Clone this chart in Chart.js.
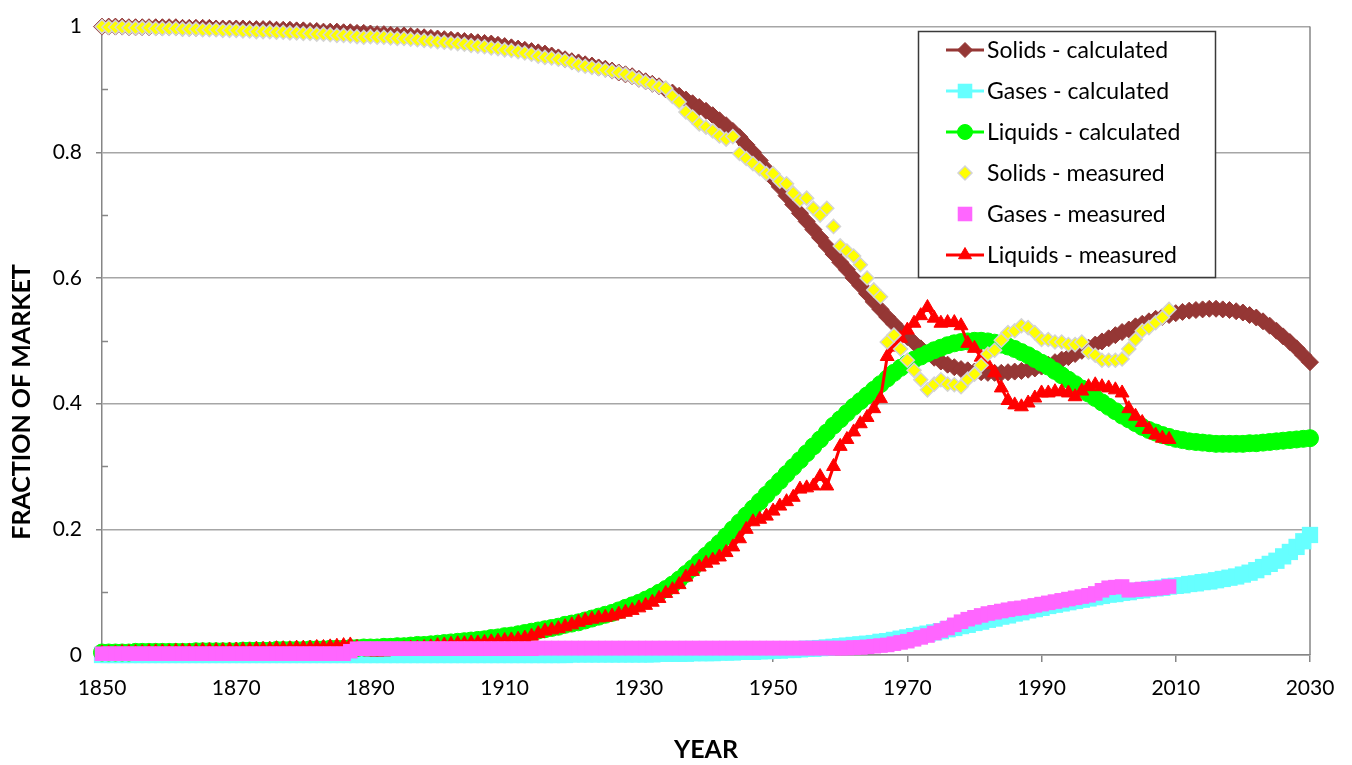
<!DOCTYPE html>
<html>
<head>
<meta charset="utf-8">
<title>Fraction of market: solids, liquids and gases</title>
<script src="https://cdn.jsdelivr.net/npm/chart.js@4.4.1/dist/chart.umd.min.js"></script>
<style>
  html, body { margin: 0; padding: 0; background: #ffffff; }
  canvas { display: block; }
</style>
</head>
<body>
<canvas id="market" width="1352" height="765"></canvas>
<script>
// Yearly shares of the primary energy market, 1850 onwards.
const FIRST_YEAR = 1850;

// Model curves, 1850-2030
const solidsCalculated = [
  1.000,1.000,1.000,1.000,0.999,0.999,0.999,0.999,0.999,0.999,
  0.999,0.999,0.998,0.998,0.998,0.998,0.998,0.997,0.997,0.997,
  0.997,0.997,0.996,0.996,0.996,0.996,0.995,0.995,0.995,0.994,
  0.994,0.993,0.993,0.992,0.992,0.992,0.991,0.991,0.990,0.990,
  0.989,0.988,0.988,0.987,0.986,0.986,0.985,0.984,0.983,0.982,
  0.981,0.980,0.979,0.978,0.977,0.976,0.975,0.974,0.973,0.971,
  0.969,0.967,0.965,0.963,0.961,0.959,0.957,0.954,0.951,0.948,
  0.945,0.943,0.940,0.938,0.935,0.933,0.930,0.927,0.924,0.921,
  0.917,0.913,0.909,0.905,0.900,0.895,0.890,0.884,0.878,0.872,
  0.866,0.859,0.851,0.843,0.834,0.824,0.812,0.800,0.787,0.773,
  0.758,0.745,0.731,0.717,0.703,0.690,0.677,0.664,0.651,0.638,
  0.625,0.613,0.600,0.588,0.575,0.562,0.550,0.538,0.527,0.516,
  0.506,0.497,0.488,0.480,0.473,0.467,0.462,0.458,0.455,0.453,
  0.451,0.450,0.449,0.449,0.449,0.450,0.451,0.452,0.454,0.456,
  0.459,0.462,0.466,0.470,0.474,0.479,0.484,0.489,0.494,0.499,
  0.504,0.509,0.514,0.518,0.523,0.527,0.531,0.535,0.538,0.541,
  0.544,0.546,0.548,0.549,0.550,0.551,0.551,0.550,0.549,0.547,
  0.545,0.541,0.537,0.531,0.524,0.516,0.507,0.498,0.488,0.477,
  0.466
];

const gasesCalculated = [
  0.000,0.000,0.000,0.000,0.000,0.000,0.000,0.000,0.000,0.000,
  0.000,0.000,0.000,0.000,0.000,0.000,0.000,0.000,0.000,0.000,
  0.000,0.000,0.000,0.000,0.000,0.000,0.000,0.000,0.000,0.000,
  0.000,0.000,0.000,0.000,0.000,0.000,0.000,0.000,0.000,0.000,
  0.000,0.000,0.000,0.000,0.000,0.000,0.000,0.000,0.000,0.000,
  0.000,0.000,0.000,0.000,0.000,0.000,0.000,0.000,0.000,0.000,
  0.000,0.000,0.000,0.000,0.000,0.000,0.000,0.000,0.000,0.000,
  0.001,0.001,0.001,0.001,0.001,0.001,0.001,0.001,0.001,0.001,
  0.001,0.001,0.001,0.002,0.002,0.002,0.002,0.002,0.003,0.003,
  0.003,0.003,0.004,0.004,0.004,0.005,0.005,0.005,0.006,0.006,
  0.007,0.007,0.008,0.008,0.009,0.010,0.010,0.011,0.012,0.013,
  0.014,0.015,0.016,0.017,0.018,0.019,0.021,0.022,0.024,0.026,
  0.028,0.030,0.032,0.034,0.036,0.038,0.041,0.043,0.046,0.048,
  0.051,0.053,0.056,0.058,0.061,0.063,0.066,0.068,0.071,0.073,
  0.075,0.078,0.080,0.082,0.084,0.086,0.088,0.090,0.092,0.094,
  0.096,0.097,0.099,0.100,0.102,0.103,0.105,0.106,0.107,0.109,
  0.110,0.111,0.113,0.114,0.116,0.117,0.119,0.121,0.123,0.125,
  0.128,0.131,0.135,0.140,0.145,0.150,0.157,0.164,0.172,0.181,
  0.191
];

const liquidsCalculated = [
  0.004,0.004,0.004,0.004,0.004,0.005,0.005,0.005,0.005,0.005,
  0.005,0.005,0.005,0.005,0.006,0.006,0.006,0.006,0.006,0.006,
  0.006,0.007,0.007,0.007,0.007,0.007,0.008,0.008,0.008,0.008,
  0.008,0.009,0.009,0.009,0.010,0.010,0.010,0.011,0.011,0.012,
  0.012,0.012,0.013,0.013,0.014,0.014,0.015,0.016,0.016,0.017,
  0.018,0.019,0.020,0.021,0.022,0.023,0.024,0.025,0.027,0.028,
  0.030,0.031,0.033,0.035,0.037,0.039,0.041,0.043,0.045,0.048,
  0.050,0.052,0.055,0.058,0.061,0.064,0.067,0.071,0.075,0.079,
  0.083,0.088,0.093,0.099,0.105,0.112,0.120,0.129,0.138,0.148,
  0.158,0.168,0.178,0.189,0.200,0.211,0.222,0.233,0.244,0.255,
  0.266,0.277,0.288,0.299,0.310,0.321,0.332,0.343,0.354,0.365,
  0.375,0.385,0.395,0.404,0.413,0.422,0.431,0.440,0.449,0.457,
  0.464,0.470,0.475,0.480,0.485,0.489,0.493,0.496,0.498,0.499,
  0.500,0.500,0.499,0.497,0.494,0.491,0.487,0.482,0.477,0.471,
  0.465,0.459,0.452,0.445,0.438,0.431,0.424,0.416,0.409,0.402,
  0.395,0.388,0.381,0.375,0.369,0.363,0.358,0.354,0.350,0.347,
  0.344,0.342,0.340,0.339,0.338,0.337,0.336,0.336,0.336,0.336,
  0.336,0.337,0.337,0.338,0.339,0.340,0.341,0.342,0.343,0.344,
  0.345
];

// Historical statistics, 1850-2009
const solidsMeasured = [
  1.000,0.999,0.999,0.999,0.998,0.998,0.998,0.998,0.997,0.997,
  0.997,0.997,0.996,0.996,0.996,0.995,0.995,0.995,0.994,0.994,
  0.994,0.993,0.993,0.992,0.992,0.992,0.991,0.991,0.990,0.990,
  0.989,0.989,0.988,0.988,0.987,0.986,0.986,0.985,0.984,0.983,
  0.984,0.983,0.983,0.982,0.981,0.981,0.980,0.979,0.978,0.977,
  0.976,0.975,0.974,0.973,0.972,0.970,0.969,0.968,0.966,0.965,
  0.963,0.962,0.960,0.958,0.956,0.953,0.951,0.950,0.948,0.946,
  0.943,0.939,0.937,0.935,0.933,0.931,0.929,0.927,0.924,0.920,
  0.916,0.912,0.908,0.904,0.902,0.889,0.880,0.864,0.856,0.845,
  0.840,0.834,0.826,0.821,0.825,0.798,0.790,0.782,0.774,0.766,
  0.766,0.754,0.750,0.735,0.724,0.727,0.711,0.700,0.711,0.682,
  0.651,0.643,0.635,0.621,0.600,0.581,0.570,0.498,0.509,0.487,
  0.469,0.453,0.438,0.422,0.431,0.438,0.431,0.430,0.427,0.439,
  0.447,0.461,0.479,0.485,0.501,0.513,0.516,0.524,0.521,0.513,
  0.502,0.502,0.498,0.498,0.494,0.494,0.498,0.482,0.477,0.469,
  0.469,0.469,0.471,0.487,0.502,0.516,0.521,0.529,0.537,0.550
];

const gasesMeasured = [
  0.002,0.002,0.002,0.002,0.002,0.002,0.002,0.002,0.002,0.002,
  0.002,0.002,0.002,0.002,0.002,0.002,0.002,0.002,0.002,0.002,
  0.002,0.002,0.002,0.002,0.002,0.002,0.002,0.002,0.002,0.002,
  0.002,0.002,0.002,0.002,0.002,0.002,0.002,0.006,0.010,0.010,
  0.010,0.010,0.010,0.010,0.010,0.010,0.010,0.010,0.010,0.010,
  0.010,0.010,0.010,0.010,0.010,0.010,0.010,0.010,0.010,0.010,
  0.010,0.010,0.010,0.010,0.010,0.011,0.011,0.011,0.011,0.011,
  0.011,0.011,0.011,0.011,0.011,0.011,0.011,0.011,0.011,0.011,
  0.011,0.011,0.011,0.011,0.011,0.011,0.011,0.011,0.011,0.011,
  0.011,0.011,0.011,0.011,0.011,0.011,0.011,0.011,0.011,0.011,
  0.011,0.011,0.011,0.011,0.011,0.011,0.011,0.011,0.011,0.011,
  0.011,0.011,0.012,0.012,0.013,0.014,0.015,0.016,0.018,0.020,
  0.022,0.025,0.028,0.031,0.035,0.039,0.043,0.048,0.053,0.057,
  0.060,0.063,0.066,0.068,0.070,0.072,0.074,0.075,0.077,0.079,
  0.081,0.083,0.085,0.087,0.089,0.091,0.093,0.095,0.098,0.103,
  0.107,0.108,0.109,0.103,0.104,0.105,0.105,0.106,0.107,0.109
];

const liquidsMeasured = [
  0.003,0.003,0.003,0.004,0.004,0.004,0.004,0.005,0.005,0.005,
  0.005,0.006,0.006,0.006,0.006,0.007,0.007,0.007,0.007,0.008,
  0.008,0.008,0.008,0.009,0.009,0.009,0.010,0.010,0.010,0.011,
  0.011,0.011,0.012,0.012,0.013,0.014,0.015,0.016,0.012,0.006,
  0.005,0.005,0.005,0.006,0.006,0.010,0.011,0.011,0.012,0.013,
  0.015,0.016,0.017,0.018,0.018,0.019,0.019,0.020,0.021,0.022,
  0.023,0.024,0.025,0.027,0.030,0.034,0.038,0.040,0.042,0.045,
  0.048,0.052,0.055,0.057,0.059,0.060,0.062,0.065,0.068,0.071,
  0.075,0.079,0.084,0.090,0.098,0.104,0.112,0.124,0.133,0.140,
  0.146,0.151,0.156,0.163,0.172,0.185,0.200,0.212,0.216,0.221,
  0.229,0.237,0.244,0.251,0.264,0.266,0.269,0.284,0.269,0.300,
  0.332,0.343,0.355,0.368,0.378,0.392,0.408,0.475,0.490,0.504,
  0.517,0.528,0.540,0.553,0.536,0.528,0.529,0.529,0.524,0.496,
  0.488,0.474,0.462,0.449,0.425,0.405,0.398,0.395,0.401,0.409,
  0.417,0.417,0.419,0.419,0.417,0.411,0.420,0.427,0.430,0.427,
  0.425,0.422,0.417,0.392,0.380,0.370,0.359,0.350,0.345,0.343
];

const xTickYears = [1850, 1870, 1890, 1910, 1930, 1950, 1970, 1990, 2010, 2030];
const yTickValues = [0, 0.2, 0.4, 0.6, 0.8, 1];
const seriesLabels = [
  'Solids - calculated', 'Gases - calculated', 'Liquids - calculated',
  'Solids - measured', 'Gases - measured', 'Liquids - measured'
];

const toPoints = values => values.map((v, i) => ({ x: FIRST_YEAR + i, y: v }));

const FONT = 'Lato, "Open Sans", "Liberation Sans", sans-serif';
Chart.defaults.font.family = FONT;
Chart.defaults.color = '#000000';

const AXIS_GREY = '#868686';
const GRID_GREY = '#a6a6a6';

// Dataset styles; `order` puts the measured points above the model curves.
const datasets = [
  {
    label: seriesLabels[0], data: toPoints(solidsCalculated), order: 5,
    borderColor: '#953735', backgroundColor: '#953735', borderWidth: 3,
    pointStyle: 'rectRot', pointRadius: 8.5, pointBorderWidth: 1,
    pointBackgroundColor: '#953735', pointBorderColor: '#953735', showLine: true
  },
  {
    label: seriesLabels[1], data: toPoints(gasesCalculated), order: 4,
    borderColor: '#66ffff', backgroundColor: '#66ffff', borderWidth: 3,
    pointStyle: 'rect', pointRadius: 11.5, pointBorderWidth: 0,
    pointBackgroundColor: '#66ffff', pointBorderColor: '#66ffff', showLine: true
  },
  {
    label: seriesLabels[2], data: toPoints(liquidsCalculated), order: 3,
    borderColor: '#00ff00', backgroundColor: '#00ff00', borderWidth: 3,
    pointStyle: 'circle', pointRadius: 8.5, pointBorderWidth: 1,
    pointBackgroundColor: '#00ff00', pointBorderColor: '#00ff00', showLine: true
  },
  {
    label: seriesLabels[3], data: toPoints(solidsMeasured), order: 1,
    borderColor: '#d4d4d4', backgroundColor: '#ffff00', borderWidth: 0,
    pointStyle: 'rectRot', pointRadius: 7, pointBorderWidth: 1.5,
    pointBackgroundColor: '#ffff00', pointBorderColor: '#d4d4d4', showLine: false
  },
  {
    label: seriesLabels[4], data: toPoints(gasesMeasured), order: 0,
    borderColor: '#ff66ff', backgroundColor: '#ff66ff', borderWidth: 0,
    pointStyle: 'rect', pointRadius: 10.3, pointBorderWidth: 0,
    pointBackgroundColor: '#ff66ff', pointBorderColor: '#ff66ff', showLine: false
  },
  {
    label: seriesLabels[5], data: toPoints(liquidsMeasured), order: 2,
    borderColor: '#ff0000', backgroundColor: '#ff0000', borderWidth: 3,
    pointStyle: 'triangle', pointRadius: 8, pointBorderWidth: 1,
    pointBackgroundColor: '#ff0000', pointBorderColor: '#ff0000', showLine: true
  }
];
datasets.forEach(ds => { ds.clip = false; ds.tension = 0; ds.fill = false; ds.pointHoverRadius = ds.pointRadius; });

// Frame pieces, axis titles and the boxed legend.
const decorations = {
  id: 'decorations',
  beforeDatasetsDraw(chart) {
    const { ctx, chartArea: a, scales } = chart;
    ctx.save();
    ctx.strokeStyle = AXIS_GREY;
    ctx.lineWidth = 1.5;
    ctx.beginPath();
    ctx.moveTo(a.right, a.top);
    ctx.lineTo(a.right, a.bottom);
    // minor ticks on the value axis, inside the plot
    for (let k = 1; k < 10; k += 2) {
      const y = Math.round(scales.y.getPixelForValue(k / 10)) + 0.5;
      ctx.moveTo(a.left, y);
      ctx.lineTo(a.left + 6, y);
    }
    ctx.stroke();
    ctx.restore();
  },
  afterDraw(chart) {
    const { ctx, chartArea: a } = chart;
    ctx.save();
    ctx.fillStyle = '#000000';
    ctx.font = 'bold 25px ' + FONT;
    ctx.textAlign = 'center';
    ctx.textBaseline = 'middle';
    ctx.fillText('YEAR', (a.left + a.right) / 2, 750);
    ctx.save();
    ctx.translate(22, 402);
    ctx.rotate(-Math.PI / 2);
    ctx.fillText('FRACTION OF MARKET', 0, 0);
    ctx.restore();

    // legend box
    const box = { left: 918.5, top: 31.5, right: 1215.5, bottom: 277.5 };
    ctx.fillStyle = '#ffffff';
    ctx.fillRect(box.left, box.top, box.right - box.left, box.bottom - box.top);
    ctx.strokeStyle = '#3a3a3a';
    ctx.lineWidth = 1.5;
    ctx.strokeRect(box.left, box.top, box.right - box.left, box.bottom - box.top);

    ctx.font = '23px ' + FONT;
    ctx.textAlign = 'left';
    ctx.textBaseline = 'middle';
    datasets.forEach((ds, i) => {
      const y = 50 + i * 41;
      if (ds.showLine) {
        ctx.strokeStyle = ds.borderColor;
        ctx.lineWidth = 3;
        ctx.beginPath();
        ctx.moveTo(946, y);
        ctx.lineTo(984, y);
        ctx.stroke();
      }
      ctx.fillStyle = ds.pointBackgroundColor;
      ctx.strokeStyle = ds.pointBorderColor;
      ctx.lineWidth = ds.pointBorderWidth;
      const r = Math.min(ds.pointRadius, ds.pointStyle === 'rect' ? 10.3 : 7.5);
      Chart.helpers.drawPoint(ctx, {
        pointStyle: ds.pointStyle, radius: r, rotation: 0, borderWidth: ds.pointBorderWidth
      }, 965, y);
      ctx.fillStyle = '#000000';
      ctx.fillText(ds.label, 987, y + 1);
    });
    ctx.restore();
  }
};

new Chart(document.getElementById('market'), {
  type: 'line',
  data: { datasets },
  options: {
    responsive: false,
    animation: false,
    events: [],
    layout: { padding: { top: 22, right: 42, left: 0, bottom: 0 } },
    plugins: { legend: { display: false }, tooltip: { enabled: false } },
    scales: {
      x: {
        type: 'linear',
        min: xTickYears[0],
        max: xTickYears[xTickYears.length - 1],
        afterBuildTicks: scale => { scale.ticks = xTickYears.map(v => ({ value: v })); },
        afterFit: scale => { scale.height = 110; },
        ticks: { font: { size: 21 }, color: '#000000', padding: 14, maxRotation: 0, autoSkip: false,
                 callback: v => String(v) },
        grid: { drawOnChartArea: false, tickLength: 7, color: AXIS_GREY, lineWidth: 1.5 },
        border: { color: AXIS_GREY, width: 1.5 }
      },
      y: {
        min: 0,
        max: 1,
        afterBuildTicks: scale => { scale.ticks = yTickValues.map(v => ({ value: v })); },
        afterFit: scale => { scale.width = 102; },
        ticks: { font: { size: 21 }, color: '#000000', padding: 14,
                 callback: v => String(Math.round(v * 10) / 10) },
        grid: { color: GRID_GREY, lineWidth: 1.5, tickLength: 6, tickColor: AXIS_GREY },
        border: { color: AXIS_GREY, width: 1.5 }
      }
    }
  },
  plugins: [decorations]
});
</script>
</body>
</html>
